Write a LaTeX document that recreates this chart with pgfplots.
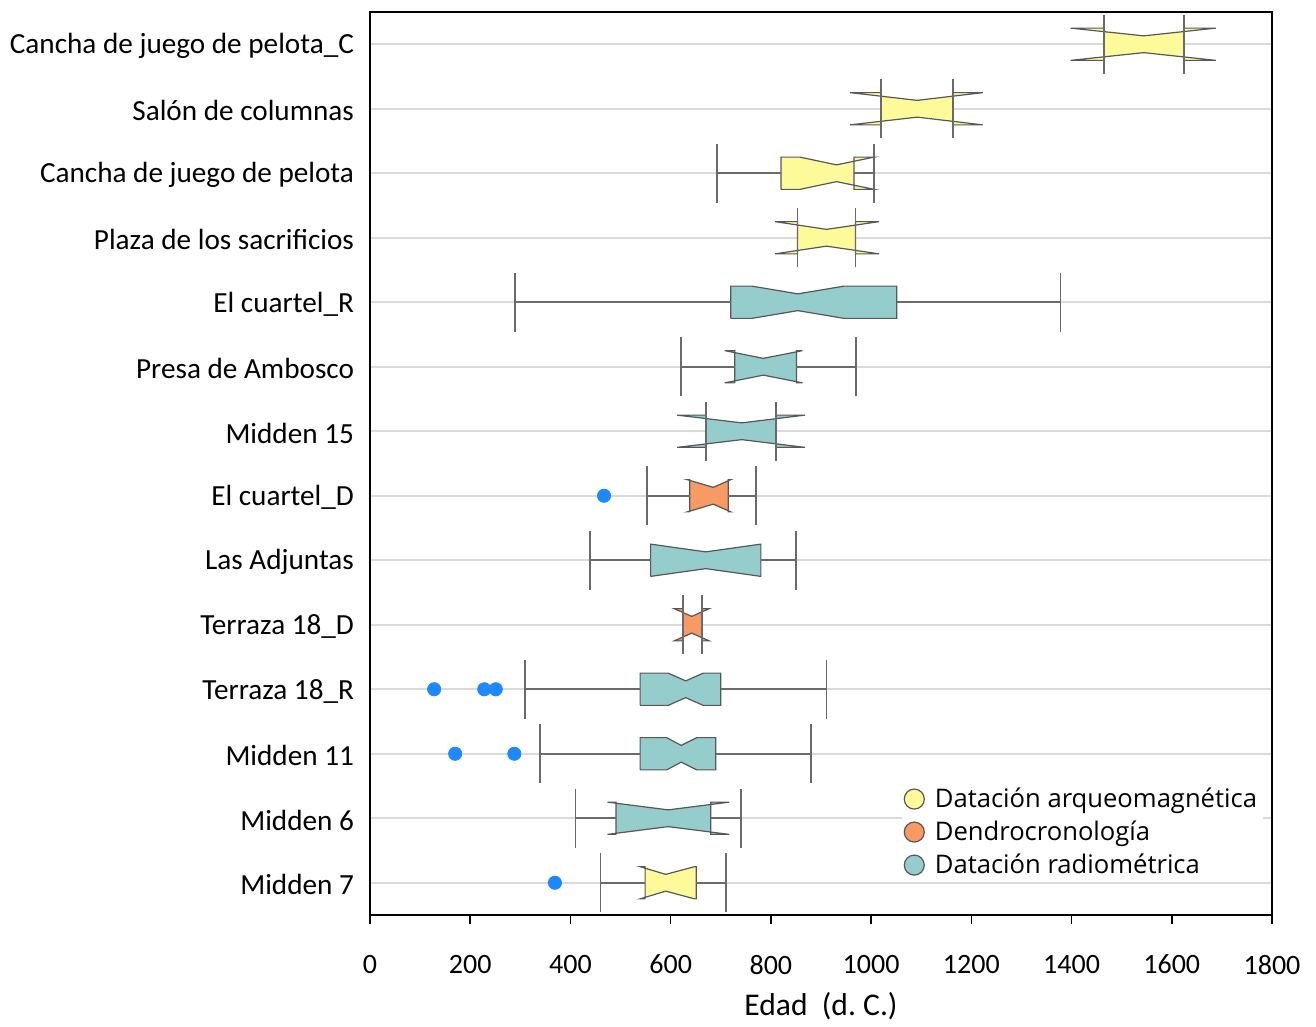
\documentclass[border=0pt]{standalone}
\usepackage{fontspec}
\setmainfont{Carlito}
\newfontfamily\legfont{Open Sans}
\usepackage{pgfplots}
\pgfplotsset{compat=1.18}
\definecolor{cyel}{HTML}{FDFB99}
\definecolor{cora}{HTML}{F79A63}
\definecolor{ctea}{HTML}{95CDCC}
\definecolor{cbox}{HTML}{575757}
\definecolor{cwhi}{HTML}{6A6A6A}
\definecolor{cout}{HTML}{1E88FF}
\definecolor{cgrid}{HTML}{DADADA}
\begin{document}
\begin{tikzpicture}
\begin{axis}[
  scale only axis, width=451pt, height=451.5pt,
  xmin=0, xmax=1800, ymin=-0.5, ymax=13.5,
  xtick={0,200,...,1800}, ytick={0,...,13},
  yticklabels={Midden 7, Midden 6, Midden 11, Terraza 18\_R, Terraza 18\_D, Las Adjuntas, El cuartel\_D, Midden 15, Presa de Ambosco, El cuartel\_R, Plaza de los sacrificios, Cancha de juego de pelota, Salón de columnas, Cancha de juego de pelota\_C},
  xtick pos=bottom, ytick pos=left,
  tick align=outside,
  major tick length=4.5pt,
  xtick style={black, line width=0.8pt},
  ytick style={draw=none},
  ymajorgrids, grid style={cgrid, line width=0.9pt},
  axis line style={black, line width=1.3pt},
  tick label style={font=\fontsize{14}{16}\selectfont},
  yticklabel style={font=\fontsize{14.6}{16}\selectfont, xshift=0pt, yshift=-1pt},
  /pgf/number format/assume math mode=true,
  /pgf/number format/set thousands separator={},
  xticklabel style={yshift=-12pt},
  xlabel={Edad~~(d.~C.)},
  xlabel style={font=\fontsize{15.8}{17}\selectfont, yshift=-2pt},
  unbounded coords=jump,
  legend style={at={(0.589,0.148)}, anchor=north west, draw=none, fill=white,
    font=\legfont\fontsize{12.8}{15}\selectfont, inner sep=1pt, row sep=1.2pt,
    legend cell align=left},
  legend image code/.code={\draw[#1] (5pt,0pt) circle (5pt); \path (13pt,0pt);},
]
% ---------- boxes (y: c-0.25, c-0.13, c+0.13, c+0.25) ----------
\pgfplotsset{bx/.style={forget plot, draw=cbox, line width=0.6pt, line join=miter}}
% 13 Cancha de juego de pelota_C
\addplot[bx, fill=cyel] coordinates {(1464,12.75) (1398,12.75) (1544,12.87) (1688,12.75) (1625,12.75) (1625,13.25) (1688,13.25) (1544,13.13) (1398,13.25) (1464,13.25) (1464,12.75)};
% 12 Salon de columnas
\addplot[bx, fill=cyel] coordinates {(1019,11.75) (958,11.75) (1092,11.87) (1223,11.75) (1164,11.75) (1164,12.25) (1223,12.25) (1092,12.13) (958,12.25) (1019,12.25) (1019,11.75)};
% 11 Cancha de juego de pelota
\addplot[bx, fill=cyel] coordinates {(820,10.75) (858,10.75) (931,10.87) (1006,10.75) (966,10.75) (966,11.25) (1006,11.25) (931,11.13) (858,11.25) (820,11.25) (820,10.75)};
% 10 Plaza de los sacrificios
\addplot[bx, fill=cyel] coordinates {(853,9.75) (808,9.75) (911,9.87) (1016,9.75) (969,9.75) (969,10.25) (1016,10.25) (911,10.13) (808,10.25) (853,10.25) (853,9.75)};
% 9 El cuartel_R
\addplot[bx, fill=ctea] coordinates {(720,8.75) (762,8.75) (854,8.87) (946,8.75) (1051,8.75) (1051,9.25) (946,9.25) (854,9.13) (762,9.25) (720,9.25) (720,8.75)};
% 8 Presa de Ambosco
\addplot[bx, fill=ctea] coordinates {(728,7.75) (708,7.75) (785,7.87) (863,7.75) (851,7.75) (851,8.25) (863,8.25) (785,8.13) (708,8.25) (728,8.25) (728,7.75)};
% 7 Midden 15
\addplot[bx, fill=ctea] coordinates {(670,6.75) (613,6.75) (742,6.87) (868,6.75) (810,6.75) (810,7.25) (868,7.25) (742,7.13) (613,7.25) (670,7.25) (670,6.75)};
% 6 El cuartel_D
\addplot[bx, fill=cora] coordinates {(638,5.75) (633,5.75) (685,5.87) (720,5.75) (715,5.75) (715,6.25) (720,6.25) (685,6.13) (633,6.25) (638,6.25) (638,5.75)};
% 5 Las Adjuntas
\addplot[bx, fill=ctea] coordinates {(560,4.75) (560,4.75) (670,4.87) (780,4.75) (780,4.75) (780,5.25) (780,5.25) (670,5.13) (560,5.25) (560,5.25) (560,4.75)};
% 4 Terraza 18_D
\addplot[bx, fill=cora] coordinates {(624,3.75) (607,3.75) (642,3.87) (677,3.75) (662,3.75) (662,4.25) (677,4.25) (642,4.13) (607,4.25) (624,4.25) (624,3.75)};
% 3 Terraza 18_R
\addplot[bx, fill=ctea] coordinates {(539,2.75) (595,2.75) (630,2.87) (665,2.75) (700,2.75) (700,3.25) (665,3.25) (630,3.13) (595,3.25) (539,3.25) (539,2.75)};
% 2 Midden 11
\addplot[bx, fill=ctea] coordinates {(539,1.75) (592,1.75) (621,1.87) (652,1.75) (690,1.75) (690,2.25) (652,2.25) (621,2.13) (592,2.25) (539,2.25) (539,1.75)};
% 1 Midden 6
\addplot[bx, fill=ctea] coordinates {(491,0.75) (474,0.75) (595,0.87) (717,0.75) (680,0.75) (680,1.25) (717,1.25) (595,1.13) (474,1.25) (491,1.25) (491,0.75)};
% 0 Midden 7
\addplot[bx, fill=cyel] coordinates {(549,-0.25) (539,-0.25) (590,-0.13) (648,-0.25) (651,-0.25) (651,0.25) (648,0.25) (590,0.13) (539,0.25) (549,0.25) (549,-0.25)};
% ---------- whiskers ----------
\addplot[forget plot, cwhi, line width=0.9pt] coordinates {
 (1464,12.54) (1464,13.46) (0,nan) (1625,12.54) (1625,13.46) (0,nan)
 (1019,11.54) (1019,12.46) (0,nan) (1164,11.54) (1164,12.46) (0,nan)
 (693,10.54) (693,11.46) (0,nan) (1006,10.54) (1006,11.46) (0,nan) (693,11) (820,11) (0,nan) (966,11) (1006,11) (0,nan)
 (853,9.54) (853,10.46) (0,nan) (969,9.54) (969,10.46) (0,nan)
 (290,8.54) (290,9.46) (0,nan) (1378,8.54) (1378,9.46) (0,nan) (290,9) (720,9) (0,nan) (1051,9) (1378,9) (0,nan)
 (620,7.54) (620,8.46) (0,nan) (970,7.54) (970,8.46) (0,nan) (620,8) (728,8) (0,nan) (851,8) (970,8) (0,nan)
 (670,6.54) (670,7.46) (0,nan) (810,6.54) (810,7.46) (0,nan)
 (552,5.54) (552,6.46) (0,nan) (770,5.54) (770,6.46) (0,nan) (552,6) (638,6) (0,nan) (715,6) (770,6) (0,nan)
 (439,4.54) (439,5.46) (0,nan) (850,4.54) (850,5.46) (0,nan) (439,5) (560,5) (0,nan) (780,5) (850,5) (0,nan)
 (624,3.54) (624,4.46) (0,nan) (662,3.54) (662,4.46) (0,nan)
 (310,2.54) (310,3.46) (0,nan) (911,2.54) (911,3.46) (0,nan) (310,3) (539,3) (0,nan) (700,3) (911,3) (0,nan)
 (339,1.54) (339,2.46) (0,nan) (880,1.54) (880,2.46) (0,nan) (339,2) (539,2) (0,nan) (690,2) (880,2) (0,nan)
 (410,0.54) (410,1.46) (0,nan) (740,0.54) (740,1.46) (0,nan) (410,1) (491,1) (0,nan) (680,1) (740,1) (0,nan)
 (460,-0.46) (460,0.46) (0,nan) (710,-0.46) (710,0.46) (0,nan) (460,0) (549,0) (0,nan) (651,0) (710,0)
};
% ---------- outliers ----------
\addplot[forget plot, only marks, mark=*, mark size=3.3pt, cout, mark options={draw=cout, fill=cout}] coordinates {
 (467,6) (128,3) (228,3) (251,3) (170,2) (288,2) (369,0)
};
% ---------- legend ----------
\addlegendimage{draw=cbox, fill=cyel, line width=0.6pt}
\addlegendentry{Datación arqueomagnética}
\addlegendimage{draw=cbox, fill=cora, line width=0.6pt}
\addlegendentry{Dendrocronología}
\addlegendimage{draw=cbox, fill=ctea, line width=0.6pt}
\addlegendentry{Datación radiométrica}
\end{axis}
\path (current axis.south west) ++(-185pt,-52pt);
\path (current axis.north east) ++(22pt,6pt);
\end{tikzpicture}
\end{document}
